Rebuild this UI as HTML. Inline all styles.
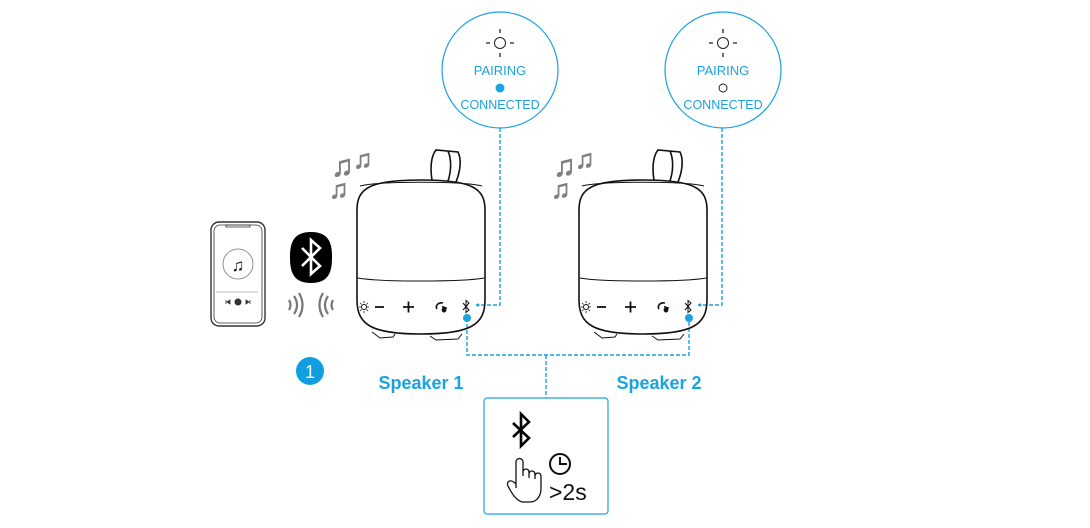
<!DOCTYPE html>
<html><head><style>
html,body{margin:0;padding:0;background:#fff;}
svg{display:block;}
text{font-family:"Liberation Sans",sans-serif;}
</style></head><body>
<svg width="1090" height="528" viewBox="0 0 1090 528" xmlns="http://www.w3.org/2000/svg">
<defs>
<g id="spk" fill="none" stroke="#111" stroke-width="1.6">
  <path d="M432 180 C430 168 431 156 436 150 L458 152 C462 160 460 172 456 182"/>
  <path d="M448 151 C452 160 451 172 448 181"/>
  <path d="M357 210 C357 188 370 180 421 180 C472 180 485 188 485 210 L485 300 C485 325 470 334 421 334 C372 334 357 325 357 300 Z"/>
  <path d="M360 186 C380 181 462 181 482 186" stroke-width="1"/>
  <path d="M358 278 C380 282 462 282 484 278" stroke-width="1"/>
  <path d="M372 332 L380 338 L393 337 L395 334 M430 336 L436 340 L458 339 L462 334" stroke-width="1"/>
  <circle cx="364" cy="307" r="2.5" stroke-width="1"/>
  <path d="M364 301v2M364 311v2M359 307h2M367 307h2M360 303l1.5 1.5M366.5 309.5l1.5 1.5M360 311l1.5-1.5M366.5 304.5l1.5-1.5" stroke-width="0.8"/>
  <path d="M375 307h9" stroke-width="1.8"/>
  <path d="M403 307h11M408.5 301.5v11" stroke-width="1.8"/>
  <path d="M443 303 C438 302 435 306 437 309 M444 311 l-1-4 l3 1 z" stroke-width="1.6"/>
  <circle cx="444" cy="310" r="1.6" fill="#111"/>
  <path d="M463 303 l6 7 l-3 2.5 v-12 l3 2.5 l-6 7" stroke-width="1"/>
</g>
<g id="circ">
  <circle cx="0" cy="0" r="58" fill="#fff" stroke="#1aa3e0" stroke-width="1.2"/>
  <circle cx="0" cy="-27" r="5.5" fill="none" stroke="#222" stroke-width="1"/>
  <path d="M0 -41v4M0 -17v4M-14 -27h4M10 -27h4" stroke="#222" stroke-width="1.3"/>
  <text x="0" y="5" font-size="13" fill="#1aa3e0" text-anchor="middle">PAIRING</text>
  <text x="0" y="39" font-size="12.5" fill="#1aa3e0" text-anchor="middle">CONNECTED</text>
</g>
<g id="notes" fill="#808080" stroke="#808080" stroke-width="0.8">
  <text x="0" y="2" font-size="30" font-family="DejaVu Sans">♫</text>
  <text x="22" y="-6" font-size="26" font-family="DejaVu Sans">♫</text>
  <text x="-2" y="24" font-size="26" font-family="DejaVu Sans">♫</text>
</g>
</defs>

<g fill="none" stroke="#1aa3e0" stroke-width="1.4" stroke-dasharray="4,2">
  <path d="M500 128 V305 H476"/>
  <path d="M722 128 V305 H698"/>
  <path d="M467 318 V355 H689 V318"/>
  <path d="M546 355 V398"/>
</g>

<use href="#circ" transform="translate(500,70)"/>
<circle cx="500" cy="88" r="4.5" fill="#1aa3e0"/>
<use href="#circ" transform="translate(723,70)"/>
<circle cx="723" cy="88" r="4" fill="#fff" stroke="#222" stroke-width="1"/>

<use href="#spk"/>
<use href="#spk" transform="translate(222,0)"/>
<circle cx="467" cy="318" r="4" fill="#1aa3e0"/>
<circle cx="689" cy="318" r="4" fill="#1aa3e0"/>
<circle cx="478" cy="305" r="1.5" fill="#1aa3e0"/>
<circle cx="700" cy="305" r="1.5" fill="#1aa3e0"/>

<use href="#notes" transform="translate(331,174)"/>
<use href="#notes" transform="translate(553,174)"/>

<text x="421" y="389" font-size="18" font-weight="bold" fill="#1aa3e0" text-anchor="middle">Speaker 1</text>
<text x="659" y="389" font-size="18" font-weight="bold" fill="#1aa3e0" text-anchor="middle">Speaker 2</text>

<g fill="none" stroke="#333">
  <rect x="211" y="222" width="54" height="104" rx="8" stroke-width="1.4"/>
  <rect x="214" y="225" width="48" height="98" rx="6" stroke-width="0.8"/>
  <path d="M226 225 h24 v2 h-24z" stroke-width="0.8"/>
  <circle cx="238" cy="264" r="15" stroke="#777" stroke-width="0.8"/>
  <path d="M216 292 h42" stroke="#aaa" stroke-width="0.8"/>
</g>
<text x="238" y="271" font-size="17" text-anchor="middle" font-family="DejaVu Sans" fill="#111">♫</text>
<circle cx="238" cy="302" r="3.5" fill="#333"/>
<path d="M226 300v4M230 300l-3 2l3 2zM250 300v4M246 300l3 2l-3 2z" fill="#333" stroke="#333" stroke-width="0.8"/>

<path d="M311 232 C330 232 332 245 332 257 C332 270 330 283 311 283 C292 283 290 270 290 257 C290 245 292 232 311 232 Z" fill="#000"/>
<path d="M302 248 L320 266 L311 274 V240 L320 248 L302 266" fill="none" stroke="#fff" stroke-width="2.6"/>
<g fill="none" stroke="#777" stroke-width="2.2">
  <path d="M289 300 q3 5 0 10"/><path d="M294 296 q6 9 0 18"/><path d="M299 293 q7 12 0 24"/>
  <path d="M333 300 q-3 5 0 10"/><path d="M328 296 q-6 9 0 18"/><path d="M323 293 q-7 12 0 24"/>
</g>
<circle cx="310" cy="371" r="14" fill="#0f9fe0"/>
<text x="310" y="378" font-size="18" fill="#fff" text-anchor="middle">1</text>

<rect x="484" y="398" width="124" height="116" rx="3" fill="#fff" stroke="#1aa3e0" stroke-width="1.2"/>
<path d="M513 423 L529 438 L521 446 V414 L529 422 L513 437" fill="none" stroke="#000" stroke-width="2.6"/>
<path d="M516 488 V462 a3.5 3.5 0 0 1 7 0 V476 M523 472 a3 3 0 0 1 6 0 V478 M529 474 a3 3 0 0 1 6 0 V479 M535 476 a3 3 0 0 1 6 0 V488 C541 496 537 502 530 502 H522 C516 500 512 494 508 486 C506 482 510 478 516 484" fill="none" stroke="#111" stroke-width="1.3"/>
<circle cx="560" cy="464" r="10" fill="none" stroke="#111" stroke-width="2"/>
<path d="M560 457 V464 H567" fill="none" stroke="#111" stroke-width="2"/>
<text x="549" y="500" font-size="23" fill="#111">&gt;2s</text>
</svg>
</body></html>
